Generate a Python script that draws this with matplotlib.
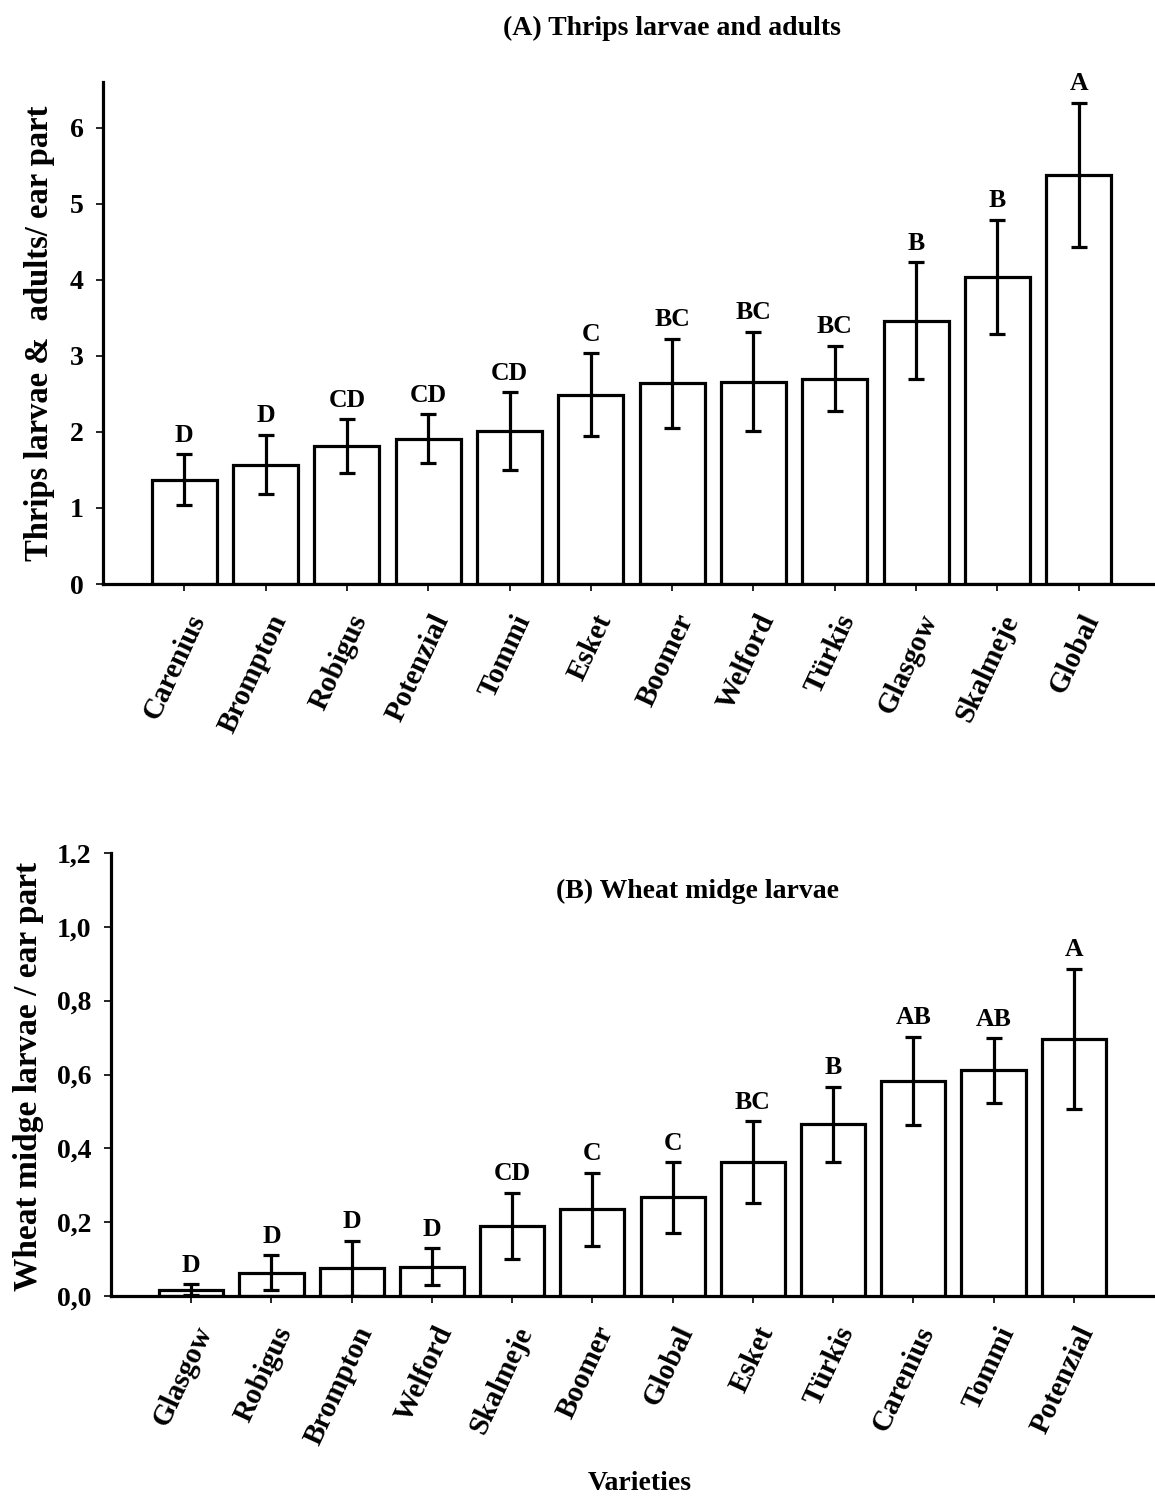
import matplotlib
matplotlib.use("Agg")
import matplotlib.pyplot as plt
from matplotlib.transforms import ScaledTranslation

plt.rcParams['font.family'] = ['Liberation Serif', 'DejaVu Serif']
plt.rcParams['font.weight'] = 'bold'

# (A) thrips larvae and adults per ear part
thrips_var = ['Carenius', 'Brompton', 'Robigus', 'Potenzial', 'Tommi', 'Esket',
              'Boomer', 'Welford', 'Türkis', 'Glasgow', 'Skalmeje', 'Global']
thrips_mean = [1.37, 1.57, 1.81, 1.91, 2.01, 2.49, 2.64, 2.66, 2.70, 3.46, 4.04, 5.38]
thrips_err = [0.335, 0.39, 0.355, 0.32, 0.51, 0.545, 0.585, 0.655, 0.43, 0.77, 0.75, 0.945]
thrips_grp = ['D', 'D', 'CD', 'CD', 'CD', 'C', 'BC', 'BC', 'BC', 'B', 'B', 'A']

# (B) wheat midge larvae per ear part
midge_var = ['Glasgow', 'Robigus', 'Brompton', 'Welford', 'Skalmeje', 'Boomer',
             'Global', 'Esket', 'Türkis', 'Carenius', 'Tommi', 'Potenzial']
midge_mean = [0.017, 0.063, 0.075, 0.079, 0.19, 0.235, 0.267, 0.363, 0.465, 0.582, 0.611, 0.696]
midge_err = [0.015, 0.047, 0.074, 0.05, 0.09, 0.099, 0.095, 0.11, 0.102, 0.12, 0.087, 0.19]
midge_grp = ['D', 'D', 'D', 'D', 'CD', 'C', 'C', 'BC', 'B', 'AB', 'AB', 'A']

W, H = 1155, 1501
fig = plt.figure(figsize=(W / 100, H / 100), dpi=100)


def box(l, r, top, bot):
    return [l / W, 1 - bot / H, (r - l) / W, (bot - top) / H]


def panel(ax, names, mean, err, grp, ytop, yticks, ylabels):
    x = range(len(names))
    ax.bar(x, mean, width=0.8, color='white', edgecolor='black', linewidth=2.3, zorder=2)
    ax.errorbar(x, mean, yerr=err, fmt='none', ecolor='black', elinewidth=2.3,
                capsize=6, capthick=2.3, zorder=3)
    for i, g in enumerate(grp):
        ax.annotate(g, (i, mean[i] + err[i]), xytext=(0, 9), textcoords='offset points',
                    ha='center', va='baseline', fontsize=18.5, fontweight='bold')
    ax.set_xlim(-1, 12)
    ax.set_ylim(0, ytop)
    for s in ['top', 'right']:
        ax.spines[s].set_visible(False)
    for s in ['left', 'bottom']:
        ax.spines[s].set_linewidth(2.3)
    ax.set_yticks(yticks)
    ax.set_yticklabels(ylabels, fontsize=20, fontweight='bold')
    ax.tick_params(axis='y', length=5, width=1.2, pad=9)
    ax.tick_params(axis='x', length=5, width=1.2, pad=18)
    ax.set_xticks(list(x))
    labs = ax.set_xticklabels(names, rotation=65, ha='right', va='center',
                              rotation_mode='anchor', fontsize=21, fontweight='bold')
    off = ScaledTranslation(14 / 100, 0, fig.dpi_scale_trans)
    for t in labs:
        t.set_transform(t.get_transform() + off)


ax1 = fig.add_axes(box(103, 1160, 82, 584))
panel(ax1, thrips_var, thrips_mean, thrips_err, thrips_grp, 6.6,
      range(7), [str(v) for v in range(7)])

ax2 = fig.add_axes(box(111, 1154, 853, 1296))
yt = [0, 0.2, 0.4, 0.6, 0.8, 1.0, 1.2]
panel(ax2, midge_var, midge_mean, midge_err, midge_grp, 1.2,
      yt, [f'{v:.1f}'.replace('.', ',') for v in yt])

fig.text(672 / W, 1 - 28 / H, '(A) Thrips larvae and adults', ha='center', va='center',
         fontsize=20, fontweight='bold')
fig.text(697 / W, 1 - 891 / H, '(B) Wheat midge larvae', ha='center', va='center',
         fontsize=20, fontweight='bold')
fig.text(640 / W, 1 - 1483 / H, 'Varieties', ha='center', va='center',
         fontsize=20, fontweight='bold')
fig.text(40 / W, 1 - 333 / H, 'Thrips larvae &  adults/ ear part', rotation=90,
         ha='center', va='center', fontsize=23.5, fontweight='bold')
fig.text(29 / W, 1 - 1076 / H, 'Wheat midge larvae / ear part', rotation=90,
         ha='center', va='center', fontsize=24, fontweight='bold')

fig.savefig('out.png', dpi=100)
